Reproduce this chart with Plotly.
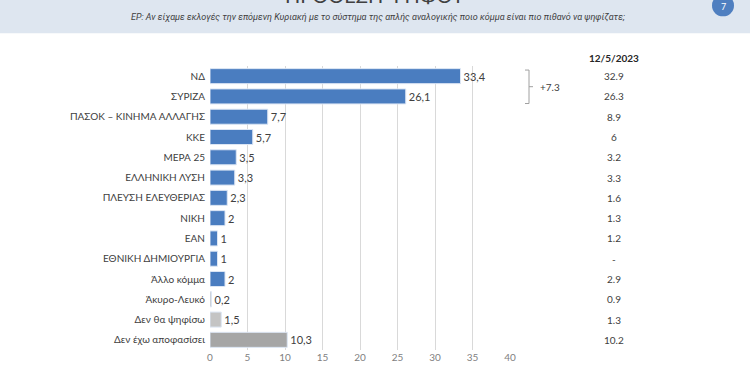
import plotly.graph_objects as go

categories = ["ΝΔ", "ΣΥΡΙΖΑ", "ΠΑΣΟΚ – ΚΙΝΗΜΑ ΑΛΛΑΓΗΣ", "ΚΚΕ", "ΜΕΡΑ 25", "ΕΛΛΗΝΙΚΗ ΛΥΣΗ",
              "ΠΛΕΥΣΗ ΕΛΕΥΘΕΡΙΑΣ", "ΝΙΚΗ", "ΕΑΝ", "ΕΘΝΙΚΗ ΔΗΜΙΟΥΡΓΙΑ", "Άλλο κόμμα",
              "Άκυρο-Λευκό", "Δεν θα ψηφίσω", "Δεν έχω αποφασίσει"]
values = [33.4, 26.1, 7.7, 5.7, 3.5, 3.3, 2.3, 2, 1, 1, 2, 0.2, 1.5, 10.3]
previous = ["32.9", "26.3", "8.9", "6", "3.2", "3.3", "1.6", "1.3", "1.2", "-", "2.9", "0.9", "1.3", "10.2"]
previous_label = "12/5/2023"
bar_colors = ["#4A7DC0"] * 11 + ["#BFBFBF", "#C4C4C4", "#A6A6A6"]
tick_vals = [0, 5, 10, 15, 20, 25, 30, 35, 40]
title = "ΠΡΟΘΕΣΗ ΨΗΦΟΥ"
subtitle = "ΕΡ: Αν είχαμε εκλογές την επόμενη Κυριακή με το σύστημα της απλής αναλογικής ποιο κόμμα είναι πιο πιθανό να ψηφίζατε;"
lead_label = "+7.3"

FONT = "Lato, Open Sans, sans-serif"

def fmt(v):
    return ("%g" % v).replace(".", ",")

fig = go.Figure(go.Bar(
    x=values, y=categories, orientation="h",
    marker=dict(color=bar_colors, line=dict(color="#DCE6F4", width=1)),
    text=[fmt(v) for v in values], textposition="outside", cliponaxis=False,
    textfont=dict(family=FONT, size=11, color="#404040"),
    width=0.74, hoverinfo="skip",
))

L, R, T, B = 210, 240, 66, 23
W, H = 750, 375
pw = W - L - R
ph = H - T - B

fig.update_layout(
    width=W, height=H, margin=dict(l=L, r=R, t=T, b=B),
    paper_bgcolor="white", plot_bgcolor="white", showlegend=False,
    font=dict(family=FONT, color="#404040"),
    xaxis=dict(range=[0, 40], tickvals=tick_vals, showgrid=True, gridcolor="#D9D9D9",
               gridwidth=1, zeroline=False, showline=False,
               tickfont=dict(size=10, color="#7F7F7F", family=FONT), ticks=""),
    yaxis=dict(autorange="reversed", categoryorder="array", categoryarray=categories,
               tickfont=dict(size=10, color="#404040", family=FONT), ticks="",
               ticklabelstandoff=4, showline=False),
    bargap=0.26,
)

def px_x(p):
    return (p - L) / pw

def px_y(p):
    return 1 + (T - p) / ph

shapes = []
shapes.append(dict(type="rect", xref="paper", yref="paper", x0=px_x(0), x1=px_x(W),
                   y0=px_y(33), y1=px_y(-10),
                   fillcolor="#DEE6F0", line=dict(width=0), layer="below"))
r = 11
shapes.append(dict(type="circle", xref="paper", yref="paper",
                   x0=px_x(723 - r), x1=px_x(723 + r),
                   y0=px_y(5 + r), y1=px_y(5 - r),
                   fillcolor="#4F7FC0", line=dict(width=0)))
bx, bl, br = px_x(529), px_x(525), px_x(533)
gray = "#A0A0A0"
shapes += [
    dict(type="line", xref="paper", yref="y", x0=bx, x1=bx, y0=-0.3, y1=1.35, line=dict(color=gray, width=1)),
    dict(type="line", xref="paper", yref="y", x0=bl, x1=bx, y0=-0.3, y1=-0.3, line=dict(color=gray, width=1)),
    dict(type="line", xref="paper", yref="y", x0=bl, x1=bx, y0=1.35, y1=1.35, line=dict(color=gray, width=1)),
    dict(type="line", xref="paper", yref="y", x0=bx, x1=br, y0=0.52, y1=0.52, line=dict(color=gray, width=1)),
]
fig.update_layout(shapes=shapes)

ann = []
ann.append(dict(text=lead_label, xref="paper", yref="y", x=px_x(538), y=0.52, xanchor="left",
                showarrow=False, font=dict(size=10, color="#404040", family=FONT)))
col_x = px_x(614)
ann.append(dict(text="<b>" + previous_label + "</b>", xref="paper", yref="paper", x=col_x,
                y=px_y(58), xanchor="center", yanchor="middle", showarrow=False,
                font=dict(size=10, color="#262626", family=FONT)))
for c, p in zip(categories, previous):
    ann.append(dict(text=p, xref="paper", yref="y", x=col_x, y=c, xanchor="center", showarrow=False,
                    font=dict(size=10, color="#404040", family=FONT)))
ann.append(dict(text="<i>" + subtitle + "</i>", xref="paper", yref="paper", x=px_x(378),
                y=px_y(17), xanchor="center", yanchor="middle", showarrow=False,
                font=dict(size=9, color="#404040", family="Liberation Sans Narrow, Roboto, sans-serif")))
ann.append(dict(text=title, xref="paper", yref="paper", x=px_x(375),
                y=px_y(-6), xanchor="center", yanchor="middle", showarrow=False,
                font=dict(size=20, color="#404040", family=FONT)))
ann.append(dict(text="7", xref="paper", yref="paper", x=px_x(723), y=px_y(6), xanchor="center",
                yanchor="middle", showarrow=False, font=dict(size=9, color="white", family=FONT)))
fig.update_layout(annotations=ann)

fig.write_html("out.html", config={"displayModeBar": False},
               post_script="document.body.style.margin='0';document.body.style.overflow='hidden';")
